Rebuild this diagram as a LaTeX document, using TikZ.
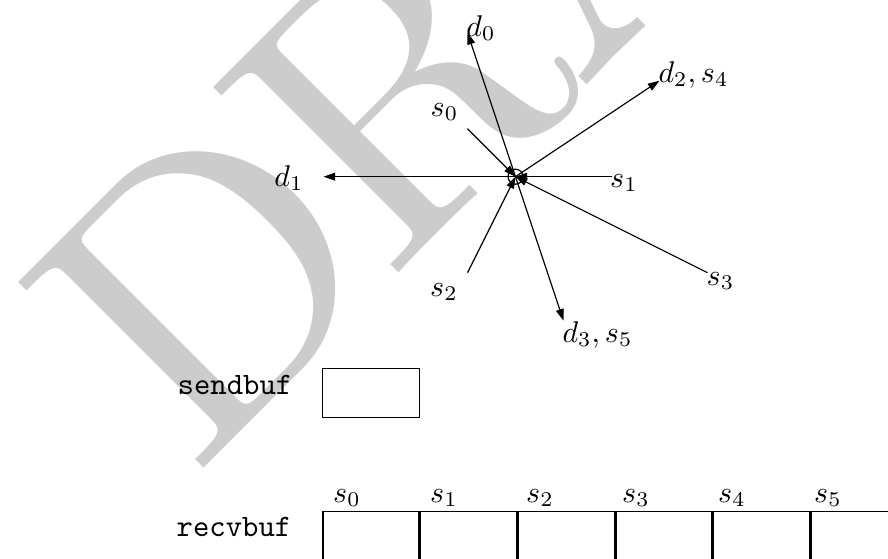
\documentclass[tikz,border=0pt]{standalone}
\usetikzlibrary{arrows.meta}
\begin{document}
\begin{tikzpicture}[x=0.33333pt,y=-0.33333pt,
  lbl/.style={inner sep=0pt, font=\fontsize{10.4pt}{12.5pt}\selectfont},
  ttl/.style={inner sep=0pt, font=\fontsize{10.4pt}{12.5pt}\selectfont\ttfamily, anchor=base},
  arr/.style={line width=0.4pt, -{Triangle[length=3.9pt,width=2.6pt]}},
  buf/.style={draw, line width=0.5pt, rectangle, inner sep=0pt, minimum height=16.2pt},
  hub/.style={circle, draw, line width=0.4pt, inner sep=0pt, minimum size=5pt},
  wmark/.style={rotate=45, scale=12.8, anchor=base west, inner sep=0pt, text=black!20,
    font=\fontsize{10pt}{12pt}\selectfont}]
\useasboundingbox (0,0) rectangle (888,559);
\clip (0,0) rectangle (888,559);
% watermark
\node[wmark] (wm) at (189,483) {D\kern-0.45pt R\kern-0.4pt AFT};
% hub
\node[hub] (c) at (515.5,176.7) {};
% free ends
\coordinate (d0e) at (467.5,32.7);
\coordinate (d1e) at (323.5,176.7);
\coordinate (d2e) at (659.5,80.7);
\coordinate (d3e) at (563.5,320.7);
\coordinate (s0e) at (467.5,128.7);
\coordinate (s1e) at (611.5,176.7);
\coordinate (s2e) at (467.5,272.7);
\coordinate (s3e) at (707.5,272.7);
% connectors
\draw[arr] (c.center) -- (d0e);
\draw[arr] (c.center) -- (d1e);
\draw[arr] (c.center) -- (d2e);
\draw[arr] (c.center) -- (d3e);
\draw[arr] (s0e) -- (c.center);
\draw[arr] (s1e) -- (c.center);
\draw[arr] (s2e) -- (c.center);
\draw[arr] (s3e) -- (c.center);
% labels
\node[lbl] (ld0) at (481,28) {$d_0$};
\node[lbl] (ld1) at (289,178) {$d_1$};
\node[lbl] (ld2) at (693.5,75) {$d_2, s_4$};
\node[lbl] (ld3) at (597.5,335) {$d_3, s_5$};
\node[lbl] (ls0) at (444.5,112) {$s_0$};
\node[lbl] (ls1) at (624,183) {$s_1$};
\node[lbl] (ls2) at (444,292) {$s_2$};
\node[lbl] (ls3) at (720.5,281) {$s_3$};
% send buffer
\node[ttl] (sendl) at (235,395) {sendbuf};
\node[buf, anchor=north west, minimum width=32.3pt] (sb) at (321.7,368) {};
% receive buffer
\node[ttl] (recvl) at (234,537) {recvbuf};
\node[buf, anchor=north west, minimum width=32.07pt] (rb0) at (322,511) {};
\node[buf, anchor=north west, minimum width=32.07pt] (rb1) at (rb0.north east) {};
\node[buf, anchor=north west, minimum width=32.07pt] (rb2) at (rb1.north east) {};
\node[buf, anchor=north west, minimum width=32.07pt] (rb3) at (rb2.north east) {};
\node[buf, anchor=north west, minimum width=32.07pt] (rb4) at (rb3.north east) {};
\node[buf, anchor=north west, minimum width=32.07pt] (rb5) at (rb4.north east) {};
\node[lbl] (r0) at (347,498) {$s_0$};
\node[lbl] (r1) at (444,498) {$s_1$};
\node[lbl] (r2) at (540,498) {$s_2$};
\node[lbl] (r3) at (636,498) {$s_3$};
\node[lbl] (r4) at (732,498) {$s_4$};
\node[lbl] (r5) at (828,498) {$s_5$};
\end{tikzpicture}
\end{document}
